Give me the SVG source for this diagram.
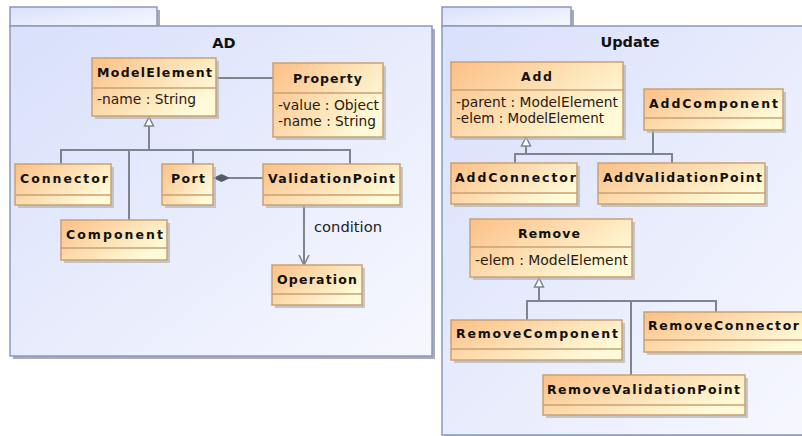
<svg xmlns="http://www.w3.org/2000/svg" width="802" height="436" viewBox="0 0 802 436">
<defs>
<linearGradient id="cg" x1="0" y1="0" x2="1" y2="0.6">
<stop offset="0" stop-color="#fcbf86"/>
<stop offset="1" stop-color="#fffbd9"/>
</linearGradient>
<linearGradient id="pg" x1="0" y1="0" x2="1" y2="1">
<stop offset="0" stop-color="#d8e0fb"/>
<stop offset="1" stop-color="#f7f8fe"/>
</linearGradient>
<marker id="open" viewBox="0 0 12 12" refX="11" refY="6" markerWidth="12" markerHeight="12" markerUnits="userSpaceOnUse" orient="auto">
<path d="M1,1 L11,6 L1,11" fill="none" stroke="#7d858f" stroke-width="1.6"/>
</marker>
</defs>
<style>
.pkg{fill:url(#pg);stroke:#8c98bd;stroke-width:1.5}
.psh{fill:#a9acb5}
.cls{fill:url(#cg);stroke:#c9a174;stroke-width:1.5}
.sh{fill:#b3b3b3;opacity:0.7}
.div{stroke:#c9a174;stroke-width:1.5}
.ln{stroke:#7d858f;stroke-width:2;fill:none}
.nm{font-family:"DejaVu Sans",Verdana,sans-serif;font-size:12.5px;font-weight:bold;fill:#111}
.at{font-family:"DejaVu Sans",Verdana,sans-serif;font-size:13.5px;fill:#2a1a10}
.pt{font-family:"DejaVu Sans",Verdana,sans-serif;font-size:14.5px;font-weight:bold;fill:#111;text-anchor:middle}
.lb{font-family:"DejaVu Sans",Verdana,sans-serif;font-size:13.5px;fill:#222}
</style>
<rect width="802" height="436" fill="#ffffff"/>

<g id="pkg-AD">
<rect class="psh" x="13" y="10" width="147" height="19"/>
<rect class="psh" x="13" y="29" width="422" height="330"/>
<rect class="pkg" x="10" y="7" width="147" height="19"/>
<rect class="pkg" x="10" y="26" width="422" height="330"/>
<text class="pt" x="224" y="48">AD</text>
</g>

<g id="pkg-Update">
<rect class="psh" x="445" y="10" width="129" height="19"/>
<rect class="psh" x="445" y="29" width="370" height="410"/>
<rect class="pkg" x="442" y="7" width="129" height="19"/>
<rect class="pkg" x="442" y="26" width="370" height="409"/>
<text class="pt" x="630" y="47">Update</text>
</g>

<g id="connectors">
<line class="ln" x1="216" y1="78" x2="273" y2="78"/>
<polyline class="ln" points="149,126 149,150"/>
<polyline class="ln" points="61,164 61,150 350,150 350,164"/>
<line class="ln" x1="129" y1="150" x2="129" y2="220"/>
<line class="ln" x1="193" y1="150" x2="193" y2="164"/>
<polygon points="149,117 144.5,126 153.5,126" fill="#ffffff" stroke="#7d858f" stroke-width="1.5"/>
<line class="ln" x1="229" y1="178" x2="263" y2="178"/>
<polygon points="214,178 221.5,174.5 229,178 221.5,181.5" fill="#555c66" stroke="#555c66" stroke-width="1"/>
<line class="ln" x1="304" y1="206" x2="304" y2="265" marker-end="url(#open)"/>
<text class="lb" x="314" y="232" textLength="68" lengthAdjust="spacingAndGlyphs">condition</text>
<polyline class="ln" points="526,146 526,154"/>
<polyline class="ln" points="515,163 515,154 672,154 672,163"/>
<line class="ln" x1="653" y1="130" x2="653" y2="154"/>
<polygon points="526,137 521.5,146 530.5,146" fill="#ffffff" stroke="#7d858f" stroke-width="1.5"/>
<polyline class="ln" points="539,287 539,301"/>
<polyline class="ln" points="527,320 527,301 716,301 716,312"/>
<line class="ln" x1="631" y1="301" x2="631" y2="375"/>
<polygon points="539,278 534.5,287 543.5,287" fill="#ffffff" stroke="#7d858f" stroke-width="1.5"/>
</g>

<g id="ModelElement">
<rect class="sh" x="95" y="61" width="124" height="58"/>
<rect class="cls" x="92" y="58" width="124" height="58"/>
<line class="div" x1="92" y1="88" x2="216" y2="88"/>
<text class="nm" x="97" y="77" textLength="115" lengthAdjust="spacing">ModelElement</text>
<text class="at" x="97" y="104" textLength="99" lengthAdjust="spacingAndGlyphs">-name : String</text>
</g>

<g id="Property">
<rect class="sh" x="276" y="66" width="110" height="74"/>
<rect class="cls" x="273" y="63" width="110" height="74"/>
<line class="div" x1="273" y1="93" x2="383" y2="93"/>
<text class="nm" x="293" y="83" textLength="69" lengthAdjust="spacing">Property</text>
<text class="at" x="278" y="110" textLength="101" lengthAdjust="spacingAndGlyphs">-value : Object</text>
<text class="at" x="278" y="126" textLength="98" lengthAdjust="spacingAndGlyphs">-name : String</text>
</g>

<g id="Connector">
<rect class="sh" x="18" y="167" width="96" height="41"/>
<rect class="cls" x="15" y="164" width="96" height="41"/>
<line class="div" x1="15" y1="195" x2="111" y2="195"/>
<text class="nm" x="20" y="183" textLength="88" lengthAdjust="spacing">Connector</text>
</g>

<g id="Port">
<rect class="sh" x="165" y="167" width="51" height="41"/>
<rect class="cls" x="162" y="164" width="51" height="41"/>
<line class="div" x1="162" y1="195" x2="213" y2="195"/>
<text class="nm" x="171" y="183" textLength="34" lengthAdjust="spacing">Port</text>
</g>

<g id="ValidationPoint">
<rect class="sh" x="266" y="167" width="137" height="41"/>
<rect class="cls" x="263" y="164" width="137" height="41"/>
<line class="div" x1="263" y1="195" x2="400" y2="195"/>
<text class="nm" x="268" y="183" textLength="127" lengthAdjust="spacing">ValidationPoint</text>
</g>

<g id="Component">
<rect class="sh" x="64" y="223" width="106" height="40"/>
<rect class="cls" x="61" y="220" width="106" height="40"/>
<line class="div" x1="61" y1="248" x2="167" y2="248"/>
<text class="nm" x="66" y="239" textLength="97" lengthAdjust="spacing">Component</text>
</g>

<g id="Operation">
<rect class="sh" x="275" y="268" width="90" height="40"/>
<rect class="cls" x="272" y="265" width="90" height="40"/>
<line class="div" x1="272" y1="294" x2="362" y2="294"/>
<text class="nm" x="277" y="284" textLength="80" lengthAdjust="spacing">Operation</text>
</g>

<g id="Add">
<rect class="sh" x="454" y="65" width="172" height="75"/>
<rect class="cls" x="451" y="62" width="172" height="75"/>
<line class="div" x1="451" y1="90" x2="623" y2="90"/>
<text class="nm" x="521" y="81" textLength="31" lengthAdjust="spacing">Add</text>
<text class="at" x="456" y="107" textLength="162" lengthAdjust="spacingAndGlyphs">-parent : ModelElement</text>
<text class="at" x="456" y="123" textLength="148" lengthAdjust="spacingAndGlyphs">-elem : ModelElement</text>
</g>

<g id="AddComponent">
<rect class="sh" x="647" y="92" width="139" height="41"/>
<rect class="cls" x="644" y="89" width="139" height="41"/>
<line class="div" x1="644" y1="118" x2="783" y2="118"/>
<text class="nm" x="649" y="108" textLength="129" lengthAdjust="spacing">AddComponent</text>
</g>

<g id="AddConnector">
<rect class="sh" x="454" y="166" width="126" height="41"/>
<rect class="cls" x="451" y="163" width="126" height="41"/>
<line class="div" x1="451" y1="193" x2="577" y2="193"/>
<text class="nm" x="455" y="182" textLength="121" lengthAdjust="spacing">AddConnector</text>
</g>

<g id="AddValidationPoint">
<rect class="sh" x="601" y="166" width="167" height="41"/>
<rect class="cls" x="598" y="163" width="167" height="41"/>
<line class="div" x1="598" y1="193" x2="765" y2="193"/>
<text class="nm" x="603" y="182" textLength="159" lengthAdjust="spacing">AddValidationPoint</text>
</g>

<g id="Remove">
<rect class="sh" x="473" y="222" width="162" height="58"/>
<rect class="cls" x="470" y="219" width="162" height="58"/>
<line class="div" x1="470" y1="247" x2="632" y2="247"/>
<text class="nm" x="518" y="238" textLength="62" lengthAdjust="spacing">Remove</text>
<text class="at" x="475" y="265" textLength="153" lengthAdjust="spacingAndGlyphs">-elem : ModelElement</text>
</g>

<g id="RemoveComponent">
<rect class="sh" x="454" y="323" width="171" height="40"/>
<rect class="cls" x="451" y="320" width="171" height="40"/>
<line class="div" x1="451" y1="349" x2="622" y2="349"/>
<text class="nm" x="456" y="338" textLength="162" lengthAdjust="spacing">RemoveComponent</text>
</g>

<g id="RemoveConnector">
<rect class="sh" x="647" y="315" width="170" height="40"/>
<rect class="cls" x="644" y="312" width="170" height="40"/>
<line class="div" x1="644" y1="340" x2="814" y2="340"/>
<text class="nm" x="648" y="330" textLength="151" lengthAdjust="spacing">RemoveConnector</text>
</g>

<g id="RemoveValidationPoint">
<rect class="sh" x="546" y="378" width="202" height="40"/>
<rect class="cls" x="543" y="375" width="202" height="40"/>
<line class="div" x1="543" y1="405" x2="745" y2="405"/>
<text class="nm" x="547" y="394" textLength="193" lengthAdjust="spacing">RemoveValidationPoint</text>
</g>
</svg>
